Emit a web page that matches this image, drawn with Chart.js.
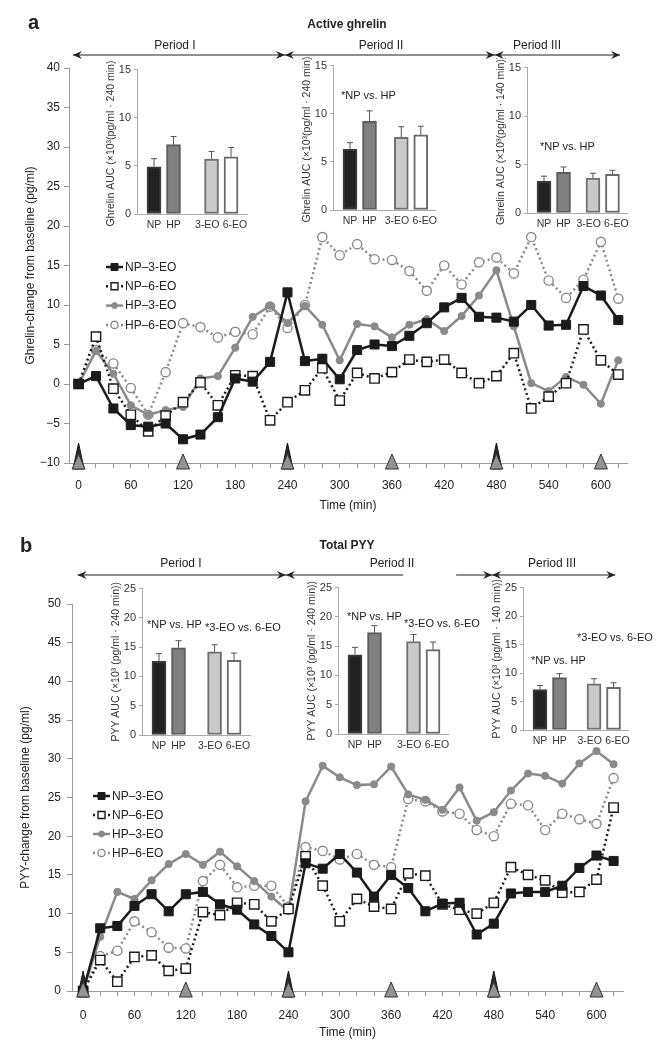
<!DOCTYPE html>
<html>
<head>
<meta charset="utf-8">
<script src="https://cdn.jsdelivr.net/npm/chart.js@4.4.0/dist/chart.umd.min.js"></script>
<style>
body { margin: 0; background: #fff; }
#page { position: relative; width: 657px; height: 1049px; overflow: hidden; background: #fff;
        font-family: "Liberation Sans", Arial, sans-serif; color: #222; }
canvas { position: absolute; }
.t { position: absolute; white-space: nowrap; line-height: 1; }
</style>
</head>
<body>
<div id="page"></div>
<script>
// tiempos de muestreo (min)
const times = [0, 20, 40, 60, 80, 100, 120, 140, 160, 180, 200, 220, 240, 260, 280, 300,
  320, 340, 360, 380, 400, 420, 440, 460, 480, 500, 520, 540, 560, 580, 600, 620];
const seriesNames = ['NP–3-EO', 'NP–6-EO', 'HP–3-EO', 'HP–6-EO'];
const groups = ['NP', 'HP', '3-EO', '6-EO'];
const mealTimes = [0, 240, 480];
const drinkTimes = [0, 120, 240, 360, 480, 600];
const periodNames = ['Period I', 'Period II', 'Period III'];

// a: ghrelin activa
const ghrNp3 = [0, 1.0, -3.1, -5.2, -5.4, -5.0, -7.0, -6.4, -4.2, 0.7, 0.3, 2.8, 11.6, 2.9, 3.2, 0.6,
  4.3, 5.0, 4.8, 6.1, 7.7, 9.7, 10.9, 8.5, 8.4, 7.9, 10.0, 7.4, 7.5, 12.4, 11.2, 8.1];
const ghrNp6 = [0, 6.0, -0.6, -3.9, -6.0, -4.0, -2.3, 0.2, -2.7, 1.1, 1.0, -4.6, -2.3, -0.8, 2.0, -2.1,
  1.4, 0.7, 1.5, 3.1, 2.8, 3.1, 1.4, 0.1, 1.0, 3.9, -3.1, -1.6, 0.1, 6.9, 3.0, 1.2];
const ghrHp3 = [0, 4.2, 1.3, -2.7, -3.9, -3.3, -2.9, 0.7, 1.0, 4.6, 8.5, 9.9, 7.7, 9.9, 7.5, 3.0,
  7.6, 7.3, 5.9, 7.5, 8.2, 6.7, 8.6, 11.2, 14.4, 7.3, 0.1, -0.9, 0.9, -0.1, -2.5, 3.0];
const ghrHp6 = [0, 4.3, 2.6, -0.5, -3.9, 1.5, 7.7, 7.2, 5.9, 6.6, 6.3, 9.8, 7.1, 10.0, 18.6, 16.3,
  17.7, 15.8, 15.7, 14.3, 11.8, 15.0, 12.6, 15.4, 16.0, 14.0, 18.6, 13.1, 10.9, 13.2, 18.0, 10.8];
// AUC por periodo (NP, HP, 3-EO, 6-EO) y su error
const ghrAuc = [[4.9, 7.2, 5.7, 5.95], [6.3, 9.2, 7.55, 7.8], [3.3, 4.2, 3.6, 4.0]];
const ghrAucErr = [[0.85, 0.85, 0.8, 0.95], [0.7, 1.1, 1.1, 0.9], [0.5, 0.55, 0.5, 0.4]];

// b: PYY total
const pyyNp3 = [0, 8.1, 8.4, 11.0, 12.5, 10.3, 12.5, 12.8, 11.2, 10.5, 8.6, 7.1, 5.0, 16.5, 15.8, 17.7,
  15.3, 12.2, 15.0, 13.3, 10.3, 11.3, 11.4, 7.3, 8.7, 12.6, 12.8, 12.8, 13.6, 15.9, 17.5, 16.8];
const pyyNp6 = [0, 4.0, 1.2, 4.4, 4.6, 2.6, 2.9, 10.2, 9.8, 11.4, 11.2, 9.0, 10.6, 17.4, 13.6, 9.0,
  11.9, 10.9, 10.6, 15.2, 14.9, 11.2, 10.5, 10.0, 11.4, 16.0, 15.0, 14.3, 12.7, 12.8, 14.4, 23.7];
const pyyHp3 = [0, 7.0, 12.8, 11.9, 14.3, 16.4, 17.7, 16.3, 18.0, 16.1, 14.2, 12.2, 10.3, 24.5, 29.1, 27.6,
  26.6, 26.7, 29.0, 25.4, 24.7, 23.4, 26.3, 22.0, 23.1, 25.9, 28.1, 27.8, 26.8, 29.4, 31.0, 29.3];
const pyyHp6 = [0, 4.5, 5.2, 9.0, 7.6, 5.6, 5.5, 14.2, 16.3, 13.4, 13.6, 13.6, 10.9, 18.6, 18.1, 17.0,
  17.7, 16.3, 16.0, 24.8, 24.5, 23.2, 22.9, 20.8, 20.0, 24.2, 24.0, 20.8, 22.9, 22.2, 21.6, 27.5];
const pyyAuc = [[12.6, 14.9, 14.2, 12.75], [13.5, 17.3, 15.8, 14.4], [7.1, 9.2, 8.1, 7.5]];
const pyyAucErr = [[1.3, 1.2, 1.2, 1.25], [1.3, 1.2, 1.2, 1.3], [0.7, 0.7, 0.9, 0.8]];

Chart.defaults.font.family = '"Liberation Sans", Arial, sans-serif';
Chart.defaults.font.size = 12;
Chart.defaults.color = '#222';

const $page = document.querySelector('#page');

const seriesStyle = [
  { color: '#1b1b1b', dash: [], point: 'rect', radius: 6.4, fill: '#1b1b1b', pw: 1 },
  { color: '#1b1b1b', dash: [2, 3], point: 'rect', radius: 6.6, fill: '#fff', pw: 1.4 },
  { color: '#8a8a8a', dash: [], point: 'circle', radius: 3.6, fill: '#8a8a8a', pw: 1 },
  { color: '#8a8a8a', dash: [2, 3], point: 'circle', radius: 4.6, fill: '#fff', pw: 1.4 }
];
const barFill = ['#222', '#808080', '#c9c9c9', '#fff'];
const barEdge = ['#3a3a3a', '#5c5c5c', '#707070', '#6a6a6a'];
// desplazamiento de las etiquetas bajo las barras (en unidades de barra)
const labelShift = [0, 0, -0.22, 0.2];

function addText(txt, x, y, size, opts = {}) {
  const el = document.createElement('div');
  el.className = 't';
  el.textContent = txt;
  el.style.left = x + 'px';
  el.style.top = y + 'px';
  el.style.fontSize = size + 'px';
  if (opts.bold) el.style.fontWeight = 'bold';
  el.style.transform = opts.center ? 'translate(-50%,-50%)' : 'translateY(-50%)';
  $page.appendChild(el);
}

function addCanvas(left, top, w, h) {
  const cv = document.createElement('canvas');
  cv.width = w;
  cv.height = h;
  cv.style.left = left + 'px';
  cv.style.top = top + 'px';
  cv.style.width = w + 'px';
  cv.style.height = h + 'px';
  $page.appendChild(cv);
  return cv;
}

function arrowHead(ctx, tip, y, dir) {
  ctx.beginPath();
  ctx.moveTo(tip, y);
  ctx.lineTo(tip - dir * 9, y - 4);
  ctx.lineTo(tip - dir * 6, y);
  ctx.lineTo(tip - dir * 9, y + 4);
  ctx.closePath();
  ctx.fill();
}

function triangle(ctx, cx, top, bottom, half, fill, edge) {
  ctx.beginPath();
  ctx.moveTo(cx, top);
  ctx.lineTo(cx + half, bottom);
  ctx.lineTo(cx - half, bottom);
  ctx.closePath();
  ctx.fillStyle = fill;
  ctx.fill();
  ctx.lineWidth = 1;
  ctx.strokeStyle = edge;
  ctx.stroke();
}

// flechas de periodos, triangulos de comidas y leyenda
function makeExtras(cfg) {
  return {
    id: 'extras',
    afterDraw(chart) {
      const ctx = chart.ctx;
      const x = chart.scales.x;
      const base = chart.chartArea.bottom;
      ctx.save();

      // periodos
      const ay = cfg.arrowY;
      ctx.strokeStyle = '#222';
      ctx.fillStyle = '#222';
      ctx.lineWidth = 1.2;
      cfg.segments.forEach(s => {
        ctx.beginPath();
        ctx.moveTo(x.getPixelForValue(s[0]), ay);
        ctx.lineTo(x.getPixelForValue(s[1]), ay);
        ctx.stroke();
      });
      arrowHead(ctx, x.getPixelForValue(cfg.segments[0][0]), ay, -1);
      arrowHead(ctx, x.getPixelForValue(cfg.segments[cfg.segments.length - 1][1]), ay, 1);
      cfg.marks.forEach(m => {
        const px = x.getPixelForValue(m);
        arrowHead(ctx, px, ay, 1);
        arrowHead(ctx, px, ay, -1);
      });

      // comidas
      mealTimes.forEach(t => {
        triangle(ctx, x.getPixelForValue(t), base - 20, base + 6, 5.5, '#2a2a2a', '#111');
      });
      drinkTimes.forEach(t => {
        triangle(ctx, x.getPixelForValue(t), base - 9, base + 6, 6.5, '#939393', '#333');
      });

      // leyenda
      const lg = cfg.legend;
      chart.data.datasets.forEach((ds, i) => {
        const st = seriesStyle[i];
        const ly = lg.y + i * lg.dy;
        ctx.setLineDash(st.dash);
        ctx.strokeStyle = st.color;
        ctx.lineWidth = 2.5;
        ctx.beginPath();
        ctx.moveTo(lg.x, ly);
        ctx.lineTo(lg.x + 17, ly);
        ctx.stroke();
        ctx.setLineDash([]);
        const cx = lg.x + 8.5;
        ctx.beginPath();
        if (st.point === 'rect') ctx.rect(cx - 3.5, ly - 3.5, 7, 7);
        else ctx.arc(cx, ly, st.fill === '#fff' ? 3.6 : 3, 0, Math.PI * 2);
        ctx.fillStyle = st.fill;
        ctx.fill();
        ctx.lineWidth = st.pw;
        ctx.stroke();
        ctx.fillStyle = '#222';
        ctx.font = '12px "Liberation Sans", Arial, sans-serif';
        ctx.textBaseline = 'middle';
        ctx.fillText(ds.label, lg.x + 19, ly + 0.5);
      });
      ctx.restore();
    }
  };
}

function makeMain(cv, series, cfg) {
  new Chart(cv, {
    type: 'line',
    data: {
      datasets: series.map((arr, i) => {
        const st = seriesStyle[i];
        return {
          label: seriesNames[i],
          data: times.map((t, k) => ({ x: t, y: arr[k] })),
          borderColor: st.color,
          borderWidth: 2.5,
          borderDash: st.dash,
          pointStyle: st.point,
          pointRadius: st.radius,
          pointBackgroundColor: st.fill,
          pointBorderColor: st.color,
          pointBorderWidth: st.pw,
          tension: 0,
          clip: false
        };
      })
    },
    options: {
      responsive: false,
      animation: false,
      layout: { padding: cfg.padding },
      plugins: { legend: { display: false }, tooltip: { enabled: false } },
      scales: {
        x: {
          type: 'linear', min: cfg.xMin, max: cfg.xMax,
          afterFit: s => { s.height = cfg.xH; },
          border: { color: '#9a9a9a' },
          grid: { drawOnChartArea: false, tickLength: 5, color: '#9a9a9a' },
          ticks: {
            stepSize: 20, includeBounds: false, autoSkip: false, maxRotation: 0, padding: cfg.xPad,
            callback: v => (v % 60 === 0 ? String(v) : '')
          },
          title: { display: true, text: 'Time (min)', padding: { top: 0, bottom: cfg.xTitlePad } }
        },
        y: {
          min: cfg.yMin, max: cfg.yMax,
          afterFit: s => { s.width = cfg.yW; },
          border: { color: '#9a9a9a' },
          grid: { drawOnChartArea: false, tickLength: 5, color: '#9a9a9a' },
          ticks: { stepSize: 5, padding: cfg.yPad, callback: v => String(v).replace('-', '\u2212') },
          title: { display: true, text: cfg.yTitle, padding: { top: cfg.yTitlePad, bottom: 0 } }
        }
      }
    },
    plugins: [makeExtras(cfg)]
  });
}

const errPlugin = {
  id: 'errBars',
  afterDatasetsDraw(chart) {
    const ctx = chart.ctx;
    const y = chart.scales.y;
    const ds = chart.data.datasets[0];
    ctx.save();
    ctx.strokeStyle = '#555';
    ctx.lineWidth = 1;
    chart.getDatasetMeta(0).data.forEach((bar, i) => {
      const top = y.getPixelForValue(ds.data[i].y + ds.errs[i]);
      ctx.beginPath();
      ctx.moveTo(bar.x, bar.y);
      ctx.lineTo(bar.x, top);
      ctx.moveTo(bar.x - 3, top);
      ctx.lineTo(bar.x + 3, top);
      ctx.stroke();
    });
    ctx.restore();
  }
};

function makeInset(box, values, errs, maxY, title, gap) {
  const padL = 36, padT = 8, padR = 8, padB = 24;
  const w = box.right - box.left, h = box.bottom - box.top;
  const cv = addCanvas(box.left - padL, box.top - padT, w + padL + padR, h + padT + padB);
  const unit = 19.5, off = 17;
  const pos = [0, 1, 1 + gap, 2 + gap];
  new Chart(cv, {
    type: 'bar',
    data: {
      datasets: [{
        data: pos.map((p, i) => ({ x: p, y: values[i] })),
        errs: errs,
        backgroundColor: barFill,
        borderColor: barEdge,
        borderWidth: 2,
        borderSkipped: false,
        barThickness: 14
      }]
    },
    options: {
      responsive: false,
      animation: false,
      layout: { padding: { left: 0, top: padT, right: padR, bottom: 0 } },
      plugins: { legend: { display: false }, tooltip: { enabled: false } },
      scales: {
        x: {
          type: 'linear', offset: false, min: -off / unit, max: (w - off) / unit,
          afterBuildTicks: s => { s.ticks = pos.map((v, i) => ({ value: v + labelShift[i] })); },
          afterFit: s => { s.height = padB; },
          border: { color: '#aaa' },
          grid: { drawOnChartArea: false, drawTicks: false, offset: false },
          ticks: { autoSkip: false, maxRotation: 0, padding: 5, font: { size: 10.5 }, color: '#333',
                   callback: (v, i) => groups[i] }
        },
        y: {
          min: 0, max: maxY,
          afterFit: s => { s.width = padL; },
          border: { color: '#aaa' },
          grid: { drawOnChartArea: false, tickLength: 3, color: '#aaa' },
          ticks: { stepSize: 5, padding: 3, font: { size: 11 }, color: '#333' },
          title: { display: true, text: title, font: { size: 10.5 }, color: '#333', padding: { top: 4, bottom: 0 } }
        }
      }
    },
    plugins: [errPlugin]
  });
}

// ---------- panel a ----------
makeMain(addCanvas(0, 0, 657, 520), [ghrNp3, ghrNp6, ghrHp3, ghrHp6], {
  padding: { left: 14, top: 68, right: 30, bottom: 2 },
  xMin: -11, xMax: 630, xH: 55, xPad: 10, xTitlePad: 5,
  yMin: -10, yMax: 40, yW: 55, yPad: 4, yTitlePad: 9,
  yTitle: 'Ghrelin-change from baseline (pg/ml)',
  arrowY: 55, segments: [[-6.5, 622]], marks: [237, 478],
  legend: { x: 106, y: 267, dy: 19.3 }
});
addText('a', 28, 22, 20, { bold: true });
addText('Active ghrelin', 347, 24, 12, { bold: true, center: true });
addText(periodNames[0], 175, 45, 12, { center: true });
addText(periodNames[1], 381, 45, 12, { center: true });
addText(periodNames[2], 537, 45, 12, { center: true });

makeInset({ left: 137, top: 68, right: 247, bottom: 214 }, ghrAuc[0], ghrAucErr[0], 15,
  'Ghrelin AUC (×10³(pg/ml · 240 min))', 1.95);
makeInset({ left: 333, top: 64, right: 435, bottom: 210 }, ghrAuc[1], ghrAucErr[1], 15,
  'Ghrelin AUC (×10³(pg/ml · 240 min))', 1.63);
makeInset({ left: 527, top: 66, right: 627, bottom: 213 }, ghrAuc[2], ghrAucErr[2], 15,
  'Ghrelin AUC (×10³(pg/ml · 140 min))', 1.51);
addText('*NP vs. HP', 341, 95, 11);
addText('*NP vs. HP', 540, 146, 11);

// ---------- panel b ----------
makeMain(addCanvas(0, 525, 657, 524), [pyyNp3, pyyNp6, pyyHp3, pyyHp6], {
  padding: { left: 14, top: 79, right: 34, bottom: 4 },
  xMin: -13, xMax: 631, xH: 54, xPad: 12, xTitlePad: 5,
  yMin: 0, yMax: 50, yW: 58, yPad: 6, yTitlePad: 4,
  yTitle: 'PYY-change from baseline (pg/ml)',
  arrowY: 50, segments: [[-6.5, 374], [436, 622]], marks: [237, 478],
  legend: { x: 93, y: 271, dy: 19 }
});
addText('b', 20, 545, 20, { bold: true });
addText('Total PYY', 347, 545, 12, { bold: true, center: true });
addText(periodNames[0], 181, 563, 12, { center: true });
addText(periodNames[1], 392, 563, 12, { center: true });
addText(periodNames[2], 552, 563, 12, { center: true });

makeInset({ left: 142, top: 587, right: 250, bottom: 735 }, pyyAuc[0], pyyAucErr[0], 25,
  'PYY AUC (×10³ (pg/ml · 240 min))', 1.85);
makeInset({ left: 338, top: 586, right: 448, bottom: 734 }, pyyAuc[1], pyyAucErr[1], 25,
  'PYY AUC (×10³ (pg/ml · 240 min))', 2.0);
makeInset({ left: 523, top: 586, right: 628, bottom: 730 }, pyyAuc[2], pyyAucErr[2], 25,
  'PYY AUC (×10³ (pg/ml · 140 min))', 1.77);
addText('*NP vs. HP', 147, 624, 11);
addText('*3-EO vs. 6-EO', 205, 627, 11);
addText('*NP vs. HP', 347, 616, 11);
addText('*3-EO vs. 6-EO', 404, 623, 11);
addText('*3-EO vs. 6-EO', 577, 637, 11);
addText('*NP vs. HP', 531, 660, 11);
</script>
</body>
</html>
